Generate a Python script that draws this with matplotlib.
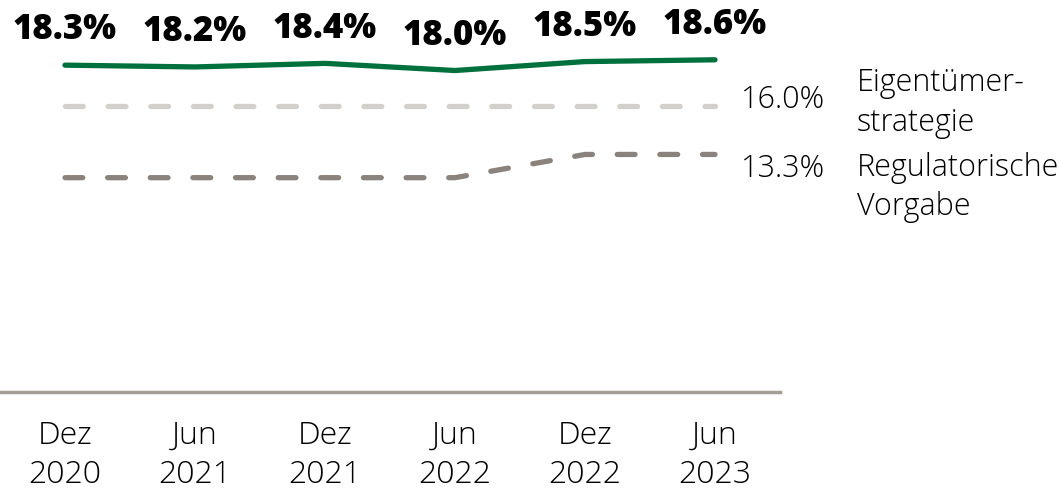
import matplotlib
matplotlib.use("Agg")
import matplotlib.pyplot as plt

plt.rcParams['font.family'] = ['Open Sans', 'DejaVu Sans']
plt.rcParams['lines.scale_dashes'] = False

categories = ["Dez\n2020", "Jun\n2021", "Dez\n2021", "Jun\n2022", "Dez\n2022", "Jun\n2023"]
cet1_ratio = [18.3, 18.2, 18.4, 18.0, 18.5, 18.6]
owner_strategy = [16.0, 16.0, 16.0, 16.0, 16.0, 16.0]
regulatory_req = [12.0, 12.0, 12.0, 12.0, 13.3, 13.3]
owner_label = "Eigentümer-\nstrategie"
reg_label = "Regulatorische\nVorgabe"

GREEN = "#00703c"
LIGHT = "#d3d0cb"
DARK = "#8a827c"
AXIS = "#a39d97"

W, H = 1060, 491
fig = plt.figure(figsize=(W / 100, H / 100), dpi=100)
ax = fig.add_axes([0, 99 / H, 780 / W, 384 / H])
x = list(range(len(categories)))

dash = (0, (12.8, 17.9))
ax.plot(x, owner_strategy, color=LIGHT, lw=3.8, linestyle=dash,
        dash_capstyle='round', solid_capstyle='round')
ax.plot(x, regulatory_req, color=DARK, lw=3.8, linestyle=dash,
        dash_capstyle='round', solid_capstyle='round')
ax.plot(x, cet1_ratio, color=GREEN, lw=3.8, solid_capstyle='round',
        solid_joinstyle='round')

ax.set_xlim(-0.5, len(categories) - 0.5)
ax.set_ylim(0, 21.5)

for xi, v in zip(x, cet1_ratio):
    ax.annotate(f"{v:.1f}%", xy=(xi, v), xytext=(0, 18.5), textcoords='offset points',
                ha='center', va='baseline', fontsize=25, fontweight=800, color='black')

last = x[-1]
ax.annotate(f"{owner_strategy[-1]:.1f}%", xy=(last, owner_strategy[-1]), xytext=(19, -1.5),
            textcoords='offset points', ha='left', va='baseline', fontsize=22,
            fontweight='light', color='black', annotation_clip=False)
ax.annotate(owner_label, xy=(last, owner_strategy[-1]), xytext=(102, 28),
            textcoords='offset points', ha='left', va='top', fontsize=22,
            fontweight='light', color='black', linespacing=1.32, annotation_clip=False)
ax.annotate(f"{regulatory_req[-1]:.1f}%", xy=(last, regulatory_req[-1]), xytext=(19, -16.5),
            textcoords='offset points', ha='left', va='baseline', fontsize=22,
            fontweight='light', color='black', annotation_clip=False)
ax.annotate(reg_label, xy=(last, regulatory_req[-1]), xytext=(102, 2),
            textcoords='offset points', ha='left', va='top', fontsize=22,
            fontweight='light', color='black', linespacing=1.32, annotation_clip=False)

ax.set_xticks(x)
ax.set_xticklabels(categories, fontsize=23, fontweight='light', linespacing=1.3)
ax.tick_params(axis='x', length=0, pad=20)
ax.set_yticks([])
for s in ['top', 'left', 'right']:
    ax.spines[s].set_visible(False)
ax.spines['bottom'].set_color(AXIS)
ax.spines['bottom'].set_linewidth(2.5)

fig.savefig("out.png", dpi=100)
